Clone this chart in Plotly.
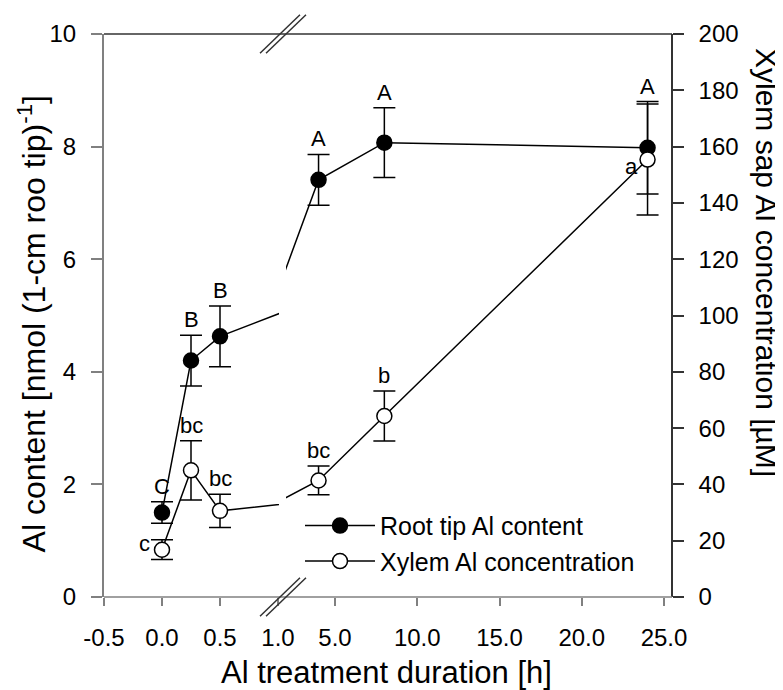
import plotly.graph_objects as go

# ---------------- data ----------------
time_h = [0, 0.25, 0.5, 4, 8, 24]
root_al = [1.50, 4.20, 4.63, 7.41, 8.07, 7.98]
root_err = [0.19, 0.45, 0.54, 0.45, 0.62, 0.82]
root_letters = ["C", "B", "B", "A", "A", "A"]

xylem_al = [16.8, 45.0, 30.6, 41.4, 64.3, 155.4]
xylem_err = [3.5, 10.5, 5.9, 5.1, 8.9, 19.7]
xylem_letters = ["c", "bc", "bc", "bc", "b", "a"]

left_ticks = [-0.5, 0.0, 0.5, 1.0]
left_tick_labels = ["-0.5", "0.0", "0.5", "1.0"]
right_ticks = [5, 10, 15, 20, 25]
right_tick_labels = ["5.0", "10.0", "15.0", "20.0", "25.0"]
y_ticks = [0, 2, 4, 6, 8, 10]
y2_ticks = list(range(0, 201, 20))

FONT = "Liberation Sans, Arial, Helvetica, sans-serif"
BLACK = "#000000"
DARK = "#333333"
GRAY = "#808080"

# page geometry (pixels, page coordinates); the page body adds an 8px offset
OFF = 8
W, H = 783 - OFF, 690 - OFF
L, R, T, B = 104, 672, 29, 597
PW, PH = R - L, B - T


def px_x(p):
    return (p - L) / PW


def px_y(p):
    return (B - p) / PH


fig = go.Figure()

marker_root = dict(symbol="circle", size=15, color=BLACK, line=dict(color=BLACK, width=1.5))
marker_xyl = dict(symbol="circle", size=15, color="white", line=dict(color=BLACK, width=1.5))
err_root = dict(type="data", array=root_err, visible=True, color=BLACK, thickness=1.5, width=11)
err_xyl = dict(type="data", array=xylem_err, visible=True, color=BLACK, thickness=1.5, width=11)

for xa, show in (("x", True), ("x2", False)):
    fig.add_trace(go.Scatter(
        x=time_h, y=root_al, mode="lines+markers", name="Root tip Al content",
        xaxis=xa, yaxis="y", line=dict(color=BLACK, width=1.5),
        marker=marker_root, error_y=err_root, showlegend=show, legendrank=1))
for xa, show in (("x", True), ("x2", False)):
    fig.add_trace(go.Scatter(
        x=time_h, y=xylem_al, mode="lines+markers", name="Xylem Al concentration",
        xaxis=xa, yaxis="y2", line=dict(color=BLACK, width=1.5),
        marker=marker_xyl, error_y=err_xyl, showlegend=show, legendrank=2))

# ---- significance letters ----
annots = []
split_t = 1.0


def xref_for(t):
    return "x" if t <= split_t else "x2"


for t, v, e, s in zip(time_h, root_al, root_err, root_letters):
    annots.append(dict(x=t, y=v + e, xref=xref_for(t), yref="y", text=s, showarrow=False,
                       xanchor="center", yanchor="bottom", yshift=1,
                       font=dict(family=FONT, size=22, color=BLACK)))
for i, (t, v, e, s) in enumerate(zip(time_h, xylem_al, xylem_err, xylem_letters)):
    if i == 0:
        a = dict(x=t, y=v, xanchor="right", yanchor="middle", xshift=-10, yshift=6)
    elif i == len(time_h) - 1:
        a = dict(x=t, y=v, xanchor="right", yanchor="middle", xshift=-8, yshift=-7)
    else:
        a = dict(x=t, y=v + e, xanchor="center", yanchor="bottom", yshift=1)
    a.update(xref=xref_for(t), yref="y2", text=s, showarrow=False,
             font=dict(family=FONT, size=22, color=BLACK))
    annots.append(a)

# ---- axis titles ----
annots.append(dict(x=px_x(386), y=px_y(673), xref="paper", yref="paper",
                   text="Al treatment duration [h]", showarrow=False,
                   xanchor="center", yanchor="middle",
                   font=dict(family=FONT, size=31, color=BLACK)))
annots.append(dict(x=px_x(32), y=px_y(322), xref="paper", yref="paper",
                   text="Al content [nmol (1-cm roo tip)<sup>-1</sup>]", showarrow=False,
                   textangle=-90, xanchor="center", yanchor="middle",
                   font=dict(family=FONT, size=32, color=BLACK)))
annots.append(dict(x=px_x(766), y=px_y(260), xref="paper", yref="paper",
                   text="Xylem sap Al concentration [µM]", showarrow=False,
                   textangle=90, xanchor="center", yanchor="middle",
                   font=dict(family=FONT, size=30, color=BLACK)))

# ---- frame lines and axis-break marks ----
shapes = [
    dict(type="line", xref="paper", yref="paper", x0=0, x1=1, y0=0, y1=0,
         line=dict(color=GRAY, width=1.5)),
    dict(type="line", xref="paper", yref="paper", x0=0, x1=1, y0=1, y1=1,
         line=dict(color=DARK, width=1.5)),
]
for ay in (T, B):
    for cx in (280, 286):
        shapes.append(dict(type="line", xref="paper", yref="paper",
                           x0=px_x(cx - 20), y0=px_y(ay + 19.5),
                           x1=px_x(cx + 20), y1=px_y(ay - 19.5),
                           line=dict(color=DARK, width=1.5)))

tickfont = dict(family=FONT, size=24, color=BLACK)
gap_l, gap_r = 279, 286

fig.update_layout(
    width=W, height=H,
    margin=dict(l=L - OFF, r=W - (R - OFF), t=T - OFF, b=H - (B - OFF), pad=0),
    paper_bgcolor="white", plot_bgcolor="white",
    showlegend=True,
    legend=dict(x=px_x(300), y=px_y(502), xanchor="left", yanchor="top",
                bgcolor="rgba(0,0,0,0)", borderwidth=0,
                font=dict(family=FONT, size=25, color=BLACK),
                itemwidth=70, tracegroupgap=0),
    xaxis=dict(domain=[0, px_x(gap_l)], range=[-0.5, -0.5 + (gap_l - L) / 116.0],
               tickvals=left_ticks, ticktext=left_tick_labels, ticks="outside", ticklen=8,
               tickwidth=1.5, tickcolor=GRAY, showline=False, showgrid=False,
               zeroline=False, tickfont=tickfont, ticklabelstandoff=11, anchor="y"),
    xaxis2=dict(domain=[px_x(gap_r), 1],
                range=[5 - (335 - gap_r) / 16.45, 25 + (R - 664) / 16.45],
                tickvals=right_ticks, ticktext=right_tick_labels, ticks="outside", ticklen=8,
                tickwidth=1.5, tickcolor=GRAY, showline=False, showgrid=False,
                zeroline=False, tickfont=tickfont, ticklabelstandoff=11, anchor="y"),
    yaxis=dict(range=[0, 10], tickvals=y_ticks, ticks="outside", ticklen=11,
               tickwidth=1.5, tickcolor=GRAY, showline=True, linecolor=GRAY,
               linewidth=2, showgrid=False, zeroline=False, tickfont=tickfont,
               ticklabelstandoff=10, anchor="x", side="left"),
    yaxis2=dict(range=[0, 200], tickvals=y2_ticks, ticks="outside", ticklen=11,
                tickwidth=1.5, tickcolor=DARK, showline=True, linecolor=DARK,
                linewidth=1.5, showgrid=False, zeroline=False, tickfont=tickfont,
                ticklabelstandoff=10, overlaying="y", side="right",
                anchor="free", position=1.0),
    annotations=annots,
    shapes=shapes,
)

fig.write_html("out.html")
